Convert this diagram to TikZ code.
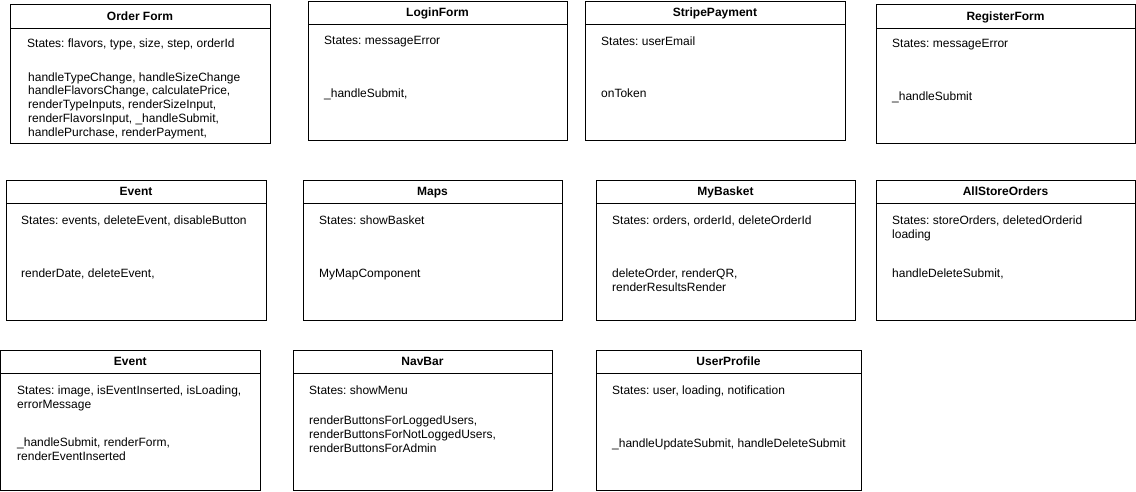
\documentclass[tikz,border=0pt]{standalone}
\usepackage{fontspec}
\setmainfont{Liberation Sans}
\frenchspacing
\begin{document}
\begin{tikzpicture}[x=1pt,y=-1pt,
  hdr/.style={draw, line width=1pt, inner sep=0pt, outer sep=0pt, anchor=north west,
    font=\bfseries\fontsize{12}{14}\selectfont, text height=8.6pt, text depth=0pt},
  bdy/.style={draw, line width=1pt, inner sep=0pt, outer sep=0pt, anchor=north west},
  txt/.style={inner sep=0pt, anchor=base west, font=\fontsize{12}{14}\selectfont}]
\fill[white] (0,0) rectangle (1136,491);
\useasboundingbox (0,0) rectangle (1136,491);

% ---------- Row 1 ----------
\node[hdr, minimum width=260pt, minimum height=24pt] (order) at (10,4) {Order Form};
\node[bdy, minimum width=260pt, minimum height=115pt] (orderbody) at (order.south west) {};
\node[txt] (order-s) at (27,47) {States: flavors, type, size, step, orderId};
\node[txt] (order-m1) at (28,81) {handleTypeChange, handleSizeChange};
\node[txt] (order-m2) at (28,94.75) {handleFlavorsChange, calculatePrice,};
\node[txt] (order-m3) at (28,108.5) {renderTypeInputs, renderSizeInput,};
\node[txt] (order-m4) at (28,122.25) {renderFlavorsInput, \_handleSubmit,};
\node[txt] (order-m5) at (28,136) {handlePurchase, renderPayment,};

\node[hdr, minimum width=259pt, minimum height=23pt] (login) at (308,1) {LoginForm};
\node[bdy, minimum width=259pt, minimum height=116pt] (loginbody) at (login.south west) {};
\node[txt] (login-s) at (324,44.5) {States: messageError};
\node[txt] (login-m) at (324,97) {\_handleSubmit,};

\node[hdr, minimum width=260pt, minimum height=23pt] (stripe) at (585,1) {StripePayment};
\node[bdy, minimum width=260pt, minimum height=116pt] (stripebody) at (stripe.south west) {};
\node[txt] (stripe-s) at (601,45.5) {States: userEmail};
\node[txt] (stripe-m) at (601,97) {onToken};

\node[hdr, minimum width=259pt, minimum height=24pt] (register) at (876,4) {RegisterForm};
\node[bdy, minimum width=259pt, minimum height=115pt] (registerbody) at (register.south west) {};
\node[txt] (register-s) at (892,47) {States: messageError};
\node[txt] (register-m) at (892,100.5) {\_handleSubmit};

% ---------- Row 2 ----------
\node[hdr, minimum width=260pt, minimum height=23pt] (event) at (6,180) {Event};
\node[bdy, minimum width=260pt, minimum height=117pt] (eventbody) at (event.south west) {};
\node[txt] (event-s) at (21,224) {States: events, deleteEvent, disableButton};
\node[txt] (event-m) at (21,277) {renderDate, deleteEvent,};

\node[hdr, minimum width=259pt, minimum height=23pt] (maps) at (303,180) {Maps};
\node[bdy, minimum width=259pt, minimum height=117pt] (mapsbody) at (maps.south west) {};
\node[txt] (maps-s) at (319,224) {States: showBasket};
\node[txt] (maps-m) at (319,277) {MyMapComponent};

\node[hdr, minimum width=259pt, minimum height=23pt] (basket) at (596,180) {MyBasket};
\node[bdy, minimum width=259pt, minimum height=117pt] (basketbody) at (basket.south west) {};
\node[txt] (basket-s) at (612,224) {States: orders, orderId, deleteOrderId};
\node[txt] (basket-m1) at (612,277) {deleteOrder, renderQR,};
\node[txt] (basket-m2) at (612,291) {renderResultsRender};

\node[hdr, minimum width=259pt, minimum height=23pt] (allstore) at (876,180) {AllStoreOrders};
\node[bdy, minimum width=259pt, minimum height=117pt] (allstorebody) at (allstore.south west) {};
\node[txt] (allstore-s1) at (892,224) {States: storeOrders, deletedOrderid};
\node[txt] (allstore-s2) at (892,238) {loading};
\node[txt] (allstore-m) at (892,277) {handleDeleteSubmit,};

% ---------- Row 3 ----------
\node[hdr, minimum width=259.5pt, minimum height=23pt] (eventform) at (0.5,350) {Event};
\node[bdy, minimum width=259.5pt, minimum height=117pt] (eventformbody) at (eventform.south west) {};
\node[txt] (eventform-s1) at (17,394) {States: image, isEventInserted, isLoading,};
\node[txt] (eventform-s2) at (17,408) {errorMessage};
\node[txt] (eventform-m1) at (17,446) {\_handleSubmit, renderForm,};
\node[txt] (eventform-m2) at (17,460) {renderEventInserted};

\node[hdr, minimum width=259pt, minimum height=23pt] (navbar) at (293,350) {NavBar};
\node[bdy, minimum width=259pt, minimum height=117pt] (navbarbody) at (navbar.south west) {};
\node[txt] (navbar-s) at (309,394) {States: showMenu};
\node[txt] (navbar-m1) at (309,424) {renderButtonsForLoggedUsers,};
\node[txt] (navbar-m2) at (309,438) {renderButtonsForNotLoggedUsers,};
\node[txt] (navbar-m3) at (309,452) {renderButtonsForAdmin};

\node[hdr, minimum width=265pt, minimum height=23pt] (profile) at (596,350) {UserProfile};
\node[bdy, minimum width=265pt, minimum height=117pt] (profilebody) at (profile.south west) {};
\node[txt] (profile-s) at (612,394) {States: user, loading, notification};
\node[txt] (profile-m) at (612,447) {\_handleUpdateSubmit, handleDeleteSubmit};
\end{tikzpicture}
\end{document}
